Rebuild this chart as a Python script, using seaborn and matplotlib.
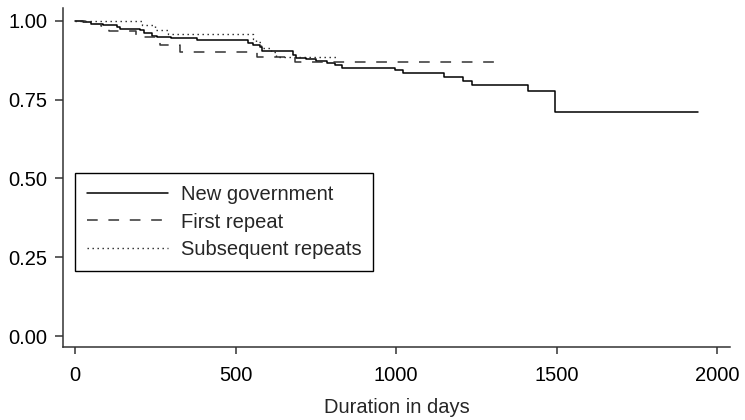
import matplotlib
matplotlib.use("Agg")
import matplotlib.pyplot as plt
import seaborn as sns
import pandas as pd

# ---- data ----
new_gov_days = [0, 25, 50, 87, 131, 140, 202, 215, 240, 255, 300, 380, 538, 553, 575, 582,
                678, 688, 720, 750, 785, 810, 830, 995, 1020, 1150, 1207, 1235, 1409, 1493, 1938]
new_gov_surv = [1.0, 0.995, 0.99, 0.985, 0.98, 0.975, 0.97, 0.962, 0.952, 0.948, 0.944, 0.938,
                0.928, 0.923, 0.915, 0.905, 0.89, 0.882, 0.879, 0.872, 0.865, 0.86, 0.851,
                0.844, 0.833, 0.822, 0.81, 0.797, 0.776, 0.711, 0.711]

first_days = [0, 40, 80, 105, 190, 210, 265, 328, 566, 685, 1306]
first_surv = [1.0, 0.99, 0.984, 0.968, 0.955, 0.948, 0.924, 0.9, 0.885, 0.87, 0.87]

subseq_days = [0, 208, 250, 290, 553, 563, 578, 610, 625, 815]
subseq_surv = [1.0, 0.987, 0.971, 0.957, 0.942, 0.933, 0.913, 0.902, 0.885, 0.885]

series_labels = ["New government", "First repeat", "Subsequent repeats"]
x_ticks = [0, 500, 1000, 1500, 2000]
y_ticks = [0.0, 0.25, 0.5, 0.75, 1.0]
x_label = "Duration in days"

# ---- style ----
sns.set_style("ticks")
plt.rcParams["font.family"] = ["Liberation Sans", "DejaVu Sans"]
FS = 14.5

W, H = 745, 420
fig = plt.figure(figsize=(W / 100, H / 100), dpi=100)
ax = fig.add_axes([63 / W, 1 - 347 / H, (730 - 63) / W, (347 - 8) / H])

df_new = pd.DataFrame({"days": new_gov_days, "surv": new_gov_surv})
df_first = pd.DataFrame({"days": first_days, "surv": first_surv})
df_sub = pd.DataFrame({"days": subseq_days, "surv": subseq_surv})

sns.lineplot(data=df_new, x="days", y="surv", ax=ax, color="black", lw=1.1,
             drawstyle="steps-post", estimator=None, label=series_labels[0])
sns.lineplot(data=df_first, x="days", y="surv", ax=ax, color="#333333", lw=1.1,
             drawstyle="steps-post", estimator=None, dashes=(7, 7),
             label=series_labels[1])
sns.lineplot(data=df_sub, x="days", y="surv", ax=ax, color="#222222", lw=1.0,
             drawstyle="steps-post", estimator=None, dashes=(1, 2.6),
             label=series_labels[2])

ax.set_xlim(-37, 2039)
ax.set_ylim(-0.034, 1.04)
ax.set_xticks(x_ticks)
ax.set_xticklabels([str(v) for v in x_ticks])
ax.set_yticks(y_ticks)
ax.set_yticklabels([f"{v:.2f}" for v in y_ticks])
ax.set_xlabel(x_label, fontsize=FS, labelpad=9)
ax.set_ylabel("")

sns.despine(ax=ax)
for s in ["left", "bottom"]:
    ax.spines[s].set_color("#333333")
    ax.spines[s].set_linewidth(1.1)
ax.tick_params(axis="both", labelsize=FS, colors="#333333", labelcolor="black",
               width=1.1)
ax.tick_params(axis="y", length=6, pad=5)
ax.tick_params(axis="x", length=5, pad=9)

leg = ax.legend(loc="upper left", bbox_to_anchor=((75 - 63) / (730 - 63), 1 - (173 - 8) / (347 - 8)),
                borderaxespad=0, fontsize=FS, frameon=True, fancybox=False,
                handlelength=4.0, handletextpad=0.65, labelspacing=0.42, borderpad=0.6)
leg.get_frame().set_edgecolor("black")
leg.get_frame().set_linewidth(1.0)
leg.get_frame().set_alpha(1)

fig.savefig("out.png", dpi=100)
